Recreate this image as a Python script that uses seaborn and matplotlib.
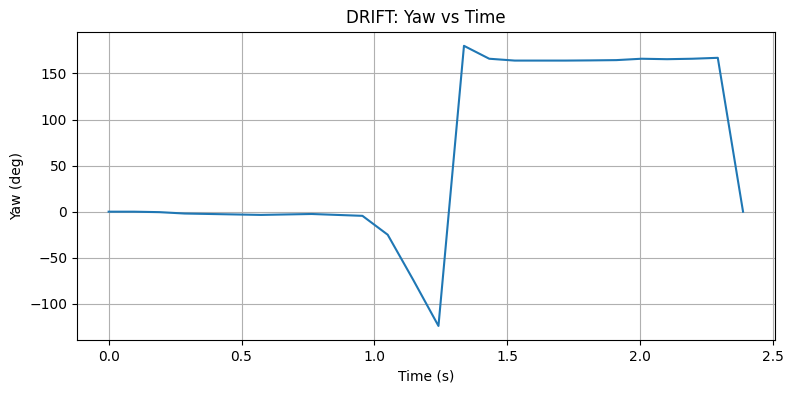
import pandas as pd
import matplotlib
matplotlib.use('Agg')
import matplotlib.pyplot as plt
import seaborn as sns

# Dữ liệu
time_s = [0.0, 0.095, 0.191, 0.286, 0.382, 0.477, 0.573, 0.668, 0.764, 0.859,
          0.955, 1.050, 1.146, 1.241, 1.337, 1.432, 1.528, 1.623, 1.719, 1.814,
          1.910, 2.005, 2.101, 2.196, 2.292, 2.387]
yaw_deg = [0.0, 0.0, -0.5, -2.0, -2.5, -3.0, -3.5, -3.0, -2.5, -3.5,
           -4.5, -25.0, -74.0, -124.0, 180.0, 166.0, 164.0, 164.0, 164.0, 164.2,
           164.5, 166.0, 165.5, 166.0, 167.0, 0.0]

df = pd.DataFrame({'Time (s)': time_s, 'Yaw (deg)': yaw_deg})

fig, ax = plt.subplots(figsize=(7.93, 3.93), dpi=100)
sns.lineplot(data=df, x='Time (s)', y='Yaw (deg)', color='#1f77b4', ax=ax)
ax.set_title('DRIFT: Yaw vs Time')
ax.grid(True)
fig.subplots_adjust(left=0.097, right=0.977, top=0.919, bottom=0.135)
plt.savefig('out.png')
plt.close()
